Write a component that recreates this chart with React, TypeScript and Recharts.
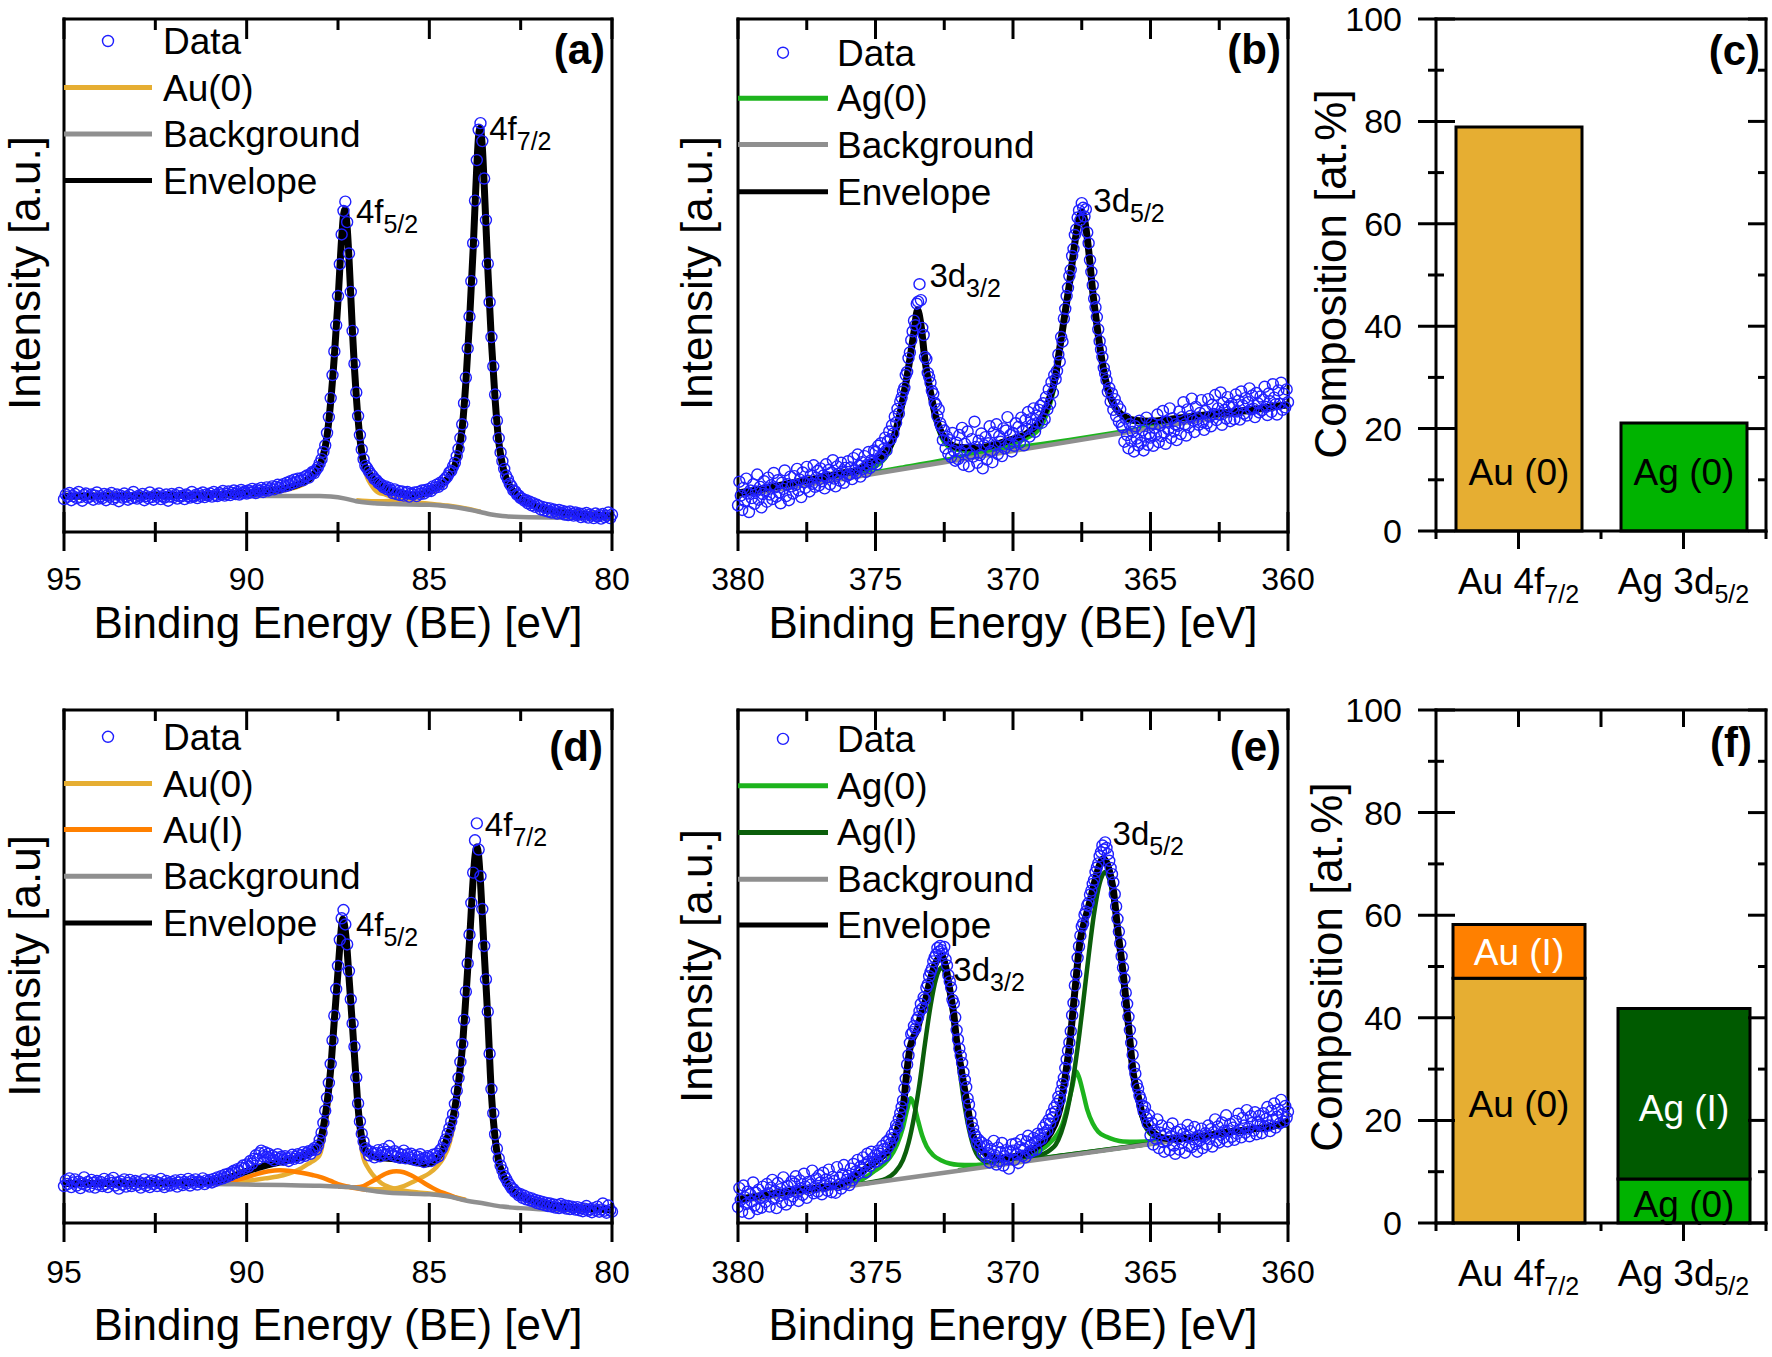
import React from 'react';
import {
  ComposedChart,
  Scatter,
  Line,
  XAxis,
  YAxis,
  ReferenceDot,
  BarChart,
  Bar,
  Cell,
  LabelList,
} from 'recharts';

const FONT = '"Liberation Sans", Arial, Helvetica, sans-serif';
const BLUE = '#1f1fff';
const AU0 = '#e6ae32';
const AUI = '#ff8000';
const AG0 = '#1db41d';
const AGI = '#0b5e0b';
const BG = '#8f8f8f';
const AG0_BAR = '#00b300';
const AGI_BAR = '#005a00';

type Pair = [number, number];

// ---------- (a) Au 4f, sample 1 : measured points 95 -> 80 eV, every 0.05 eV
const auAData = [
  6.4, 7.3, 6.9, 7.6, 6.2, 7.0, 7.4, 6.6, 7.8, 6.8, 6.1, 7.2, 7.5, 6.7, 6.9, 7.3, 6.3, 7.1, 7.7, 6.5,
  7.0, 6.6, 7.4, 6.2, 7.2, 6.9, 7.6, 6.4, 6.8, 7.3, 6.0, 7.1, 6.7, 7.5, 6.9, 6.3, 7.2, 6.6, 7.8, 6.8,
  6.5, 7.1, 6.9, 7.4, 6.2, 7.0, 6.6, 7.7, 6.8, 6.3, 7.2, 6.9, 7.5, 6.4, 7.0, 6.7, 7.3, 6.1, 6.9, 7.4,
  6.8, 7.2, 6.5, 7.6, 6.9, 7.1, 6.4, 7.3, 7.0, 6.7, 7.8, 6.9, 7.2, 6.6, 7.4, 7.0, 7.7, 6.8, 7.3, 7.1,
  7.5, 6.9, 7.8, 7.2, 7.0, 7.6, 7.3, 8.0, 7.1, 7.4, 7.9, 7.2, 7.6, 8.1, 7.4, 7.8, 7.3, 8.2, 7.6, 7.9,
  7.5, 8.1, 7.7, 8.4, 7.9, 7.6, 8.3, 8.0, 8.6, 7.8, 8.2, 8.7, 8.1, 8.5, 8.9, 8.3, 8.8, 9.2, 8.6, 9.0,
  9.3, 8.9, 9.6, 9.1, 9.9, 9.5, 10.2, 9.7, 10.4, 10.0, 10.5, 10.1, 10.8, 11.0, 10.6, 11.3, 11.7, 11.5, 12.1, 12.6,
  13.4, 14.2, 15.6, 16.9, 19.3, 22.4, 26.1, 30.6, 35.2, 40.3, 46.0, 52.2, 58.0, 62.6, 64.4, 60.4, 54.3, 46.8, 39.2, 32.8,
  27.2, 22.6, 18.9, 16.1, 14.2, 12.9, 12.4, 11.8, 11.3, 10.9, 10.3, 10.1, 9.6, 9.4, 9.1, 8.7, 8.9, 8.3, 8.6, 8.1,
  7.6, 8.3, 7.4, 8.0, 7.2, 7.9, 7.1, 7.6, 7.8, 6.9, 7.5, 7.3, 7.7, 7.0, 7.8, 7.4, 8.1, 7.5, 8.2, 7.9,
  8.4, 8.0, 8.9, 8.6, 9.2, 8.8, 9.6, 9.3, 10.1, 10.5, 10.9, 11.6, 11.9, 12.8, 13.5, 14.8, 16.2, 18.3, 21.0, 25.1,
  30.1, 35.8, 42.0, 48.9, 56.3, 64.6, 72.5, 78.4, 79.7, 76.2, 68.9, 60.8, 52.3, 44.8, 38.0, 32.3, 26.8, 21.7, 18.3, 15.5,
  13.8, 12.3, 11.0, 10.3, 9.4, 8.9, 8.1, 7.9, 7.3, 7.1, 6.6, 6.5, 6.1, 6.2, 5.6, 5.9, 5.2, 5.6, 4.9, 5.3,
  5.1, 4.4, 4.9, 4.2, 4.7, 4.0, 4.6, 3.8, 4.4, 4.1, 3.6, 4.3, 3.7, 4.1, 3.4, 3.9, 3.3, 4.0, 3.5, 3.2,
  3.8, 3.3, 3.6, 2.9, 3.5, 3.1, 3.7, 2.8, 3.4, 3.2, 2.7, 3.6, 3.0, 3.3, 2.6, 3.5, 2.9, 3.2, 3.8, 2.7,
  3.4,
];
const auAEnvelope: Pair[] = [
  [95, 6.95], [92, 7.1], [90, 7.6], [89.5, 8.0], [89, 8.4], [88.5, 9.55], [88.2, 10.95], [88, 13.0],
  [87.9, 15.0], [87.8, 18.7], [87.7, 25.4], [87.6, 34.3], [87.5, 45.1], [87.4, 57.3], [87.35, 61.7],
  [87.31, 62.8], [87.25, 59.5], [87.2, 53.5], [87.15, 46], [87.1, 38.5], [87.05, 32], [87, 26.5],
  [86.9, 18.3], [86.8, 13.6], [86.7, 12.0], [86.6, 11.0], [86.4, 9.5], [86.2, 8.6], [86, 7.8],
  [85.7, 7.4], [85.45, 7.2], [85.2, 7.4], [85, 8.0], [84.8, 8.7], [84.6, 9.6], [84.4, 11.5], [84.3, 13.0],
  [84.2, 15.5], [84.1, 20.3], [84, 29.2], [83.9, 41.1], [83.8, 55.2], [83.7, 71.4], [83.65, 77.3],
  [83.61, 78.7], [83.55, 75.1], [83.5, 68.0], [83.4, 51.4], [83.3, 37.1], [83.2, 25.9], [83.1, 17.6],
  [83, 13.1], [82.9, 10.5], [82.8, 9.0], [82.6, 7.1], [82.4, 6.0], [82.2, 5.35], [82, 4.8], [81.5, 4.0],
  [81, 3.55], [80.5, 3.3], [80, 3.1],
];
const auABackground: Pair[] = [
  [95, 6.9], [89, 7.0], [88, 7.0], [87.7, 6.9], [87.3, 6.5], [87, 6.0], [86.5, 5.6], [86, 5.45],
  [85, 5.3], [84.5, 5.0], [84, 4.5], [83.6, 3.9], [83.3, 3.4], [83, 3.1], [82.5, 2.9], [80, 2.7],
];
const auAAu0f52: Pair[] = [
  [90, 7.3], [89.5, 7.6], [89, 8.1], [88.5, 9.1], [88.2, 10.5], [88, 12.6], [87.9, 14.6], [87.8, 18.4],
  [87.7, 25.1], [87.6, 34.0], [87.5, 44.8], [87.4, 57.0], [87.35, 61.4], [87.31, 62.5], [87.25, 59.2],
  [87.2, 53.2], [87.15, 45.7], [87.1, 38.2], [87.05, 31.7], [87, 26.2], [86.9, 17.8], [86.8, 12.9],
  [86.7, 10.6], [86.6, 9.3], [86.5, 8.3], [86.4, 7.7], [86.2, 7.3], [86, 6.7], [85.7, 6.2], [85.4, 5.8],
  [85, 5.5], [84.5, 5.15], [84, 4.6], [83.6, 3.95],
];
const auAAu0f72: Pair[] = [
  [87, 6.2], [86.5, 6.0], [86, 6.1], [85.7, 6.35], [85.4, 6.7], [85.2, 7.0], [85, 7.5], [84.8, 8.2],
  [84.6, 9.2], [84.4, 11.1], [84.3, 12.6], [84.2, 15.1], [84.1, 19.8], [84, 28.7], [83.9, 40.7],
  [83.8, 54.8], [83.7, 71.1], [83.65, 77.0], [83.61, 78.3], [83.55, 74.8], [83.5, 67.8], [83.4, 51.2],
  [83.3, 36.9], [83.2, 25.7], [83.1, 17.4], [83, 12.9], [82.9, 10.3], [82.8, 8.85], [82.6, 6.95],
  [82.4, 5.85], [82.2, 5.25], [82, 4.7], [81.5, 3.9], [81, 3.45], [80.5, 3.2], [80, 3.0],
];

// ---------- (b) Ag 3d, sample 1 : measured points 380 -> 360 eV, every 0.05 eV
const agBData = [
  5.2, 9.8, 7.1, 4.3, 8.6, 6.0, 10.4, 7.5, 3.9, 8.1, 6.6, 9.3, 5.5, 7.9, 11.2, 6.3, 8.8, 4.8, 7.4, 9.9,
  8.2, 5.9, 10.6, 7.3, 9.1, 6.4, 11.5, 8.7, 6.9, 10.1, 7.7, 5.6, 9.6, 8.4, 12.0, 7.0, 9.3, 6.2, 10.8, 8.9,
  7.5, 10.9, 9.2, 12.3, 8.1, 10.2, 6.8, 11.6, 9.7, 8.6, 12.7, 10.0, 7.9, 11.1, 9.4, 13.0, 8.8, 10.6, 11.9, 9.1,
  12.4, 9.9, 11.0, 8.5, 13.2, 10.7, 12.1, 9.3, 11.6, 14.0, 10.4, 8.9, 12.8, 11.3, 10.0, 13.5, 11.8, 9.6, 12.5, 10.9,
  13.8, 11.2, 12.6, 10.3, 14.4, 12.0, 11.5, 15.1, 12.9, 10.8, 13.6, 12.3, 14.8, 11.7, 13.1, 15.6, 12.5, 14.0, 13.3, 15.9,
  15.6, 13.2, 16.8, 14.5, 17.3, 15.0, 16.2, 18.4, 15.9, 17.7, 19.6, 18.1, 20.8, 19.2, 22.5, 21.3, 24.0, 23.1, 25.4, 26.2,
  27.4, 28.1, 30.6, 31.2, 33.9, 35.0, 37.4, 39.1, 41.2, 40.3, 44.5, 44.9, 48.3, 45.2, 39.8, 38.4, 34.1, 33.7, 31.0, 30.2,
  29.1, 27.5, 26.9, 25.2, 24.8, 22.6, 23.9, 21.2, 20.5, 17.9, 19.8, 16.3, 18.6, 15.2, 17.9, 14.6, 19.3, 15.8, 13.9, 17.4,
  14.2, 18.9, 15.6, 20.3, 13.1, 17.2, 16.0, 19.6, 12.8, 15.3, 18.1, 14.7, 21.5, 16.6, 13.5, 17.8, 15.0, 19.2, 12.4, 16.9,
  18.5, 14.1, 17.3, 20.6, 15.8, 13.6, 19.4, 16.9, 21.0, 15.2, 18.7, 17.6, 14.8, 20.2, 16.3, 19.8, 22.4, 17.1, 18.9, 15.7,
  19.3, 16.8, 21.2, 18.0, 20.5, 17.4, 22.3, 19.7, 16.9, 21.8, 20.1, 23.4, 18.6, 22.0, 20.9, 24.1, 19.5, 22.7, 21.3, 23.8,
  24.6, 21.3, 25.1, 22.0, 26.3, 23.9, 27.8, 25.0, 29.2, 27.1, 30.6, 29.8, 31.4, 34.6, 33.2, 38.0, 37.1, 41.6, 43.5, 46.0,
  47.6, 49.9, 51.1, 53.8, 55.2, 57.9, 59.0, 61.3, 62.7, 60.8, 64.1, 63.2, 61.5, 62.9, 58.4, 56.3, 53.0, 50.7, 48.1, 45.5,
  43.8, 41.9, 39.5, 37.2, 35.6, 34.1, 32.0, 30.9, 29.6, 27.3, 28.1, 25.4, 27.0, 23.8, 25.9, 22.6, 24.7, 21.5, 23.9, 20.8,
  20.4, 17.6, 22.1, 18.9, 16.3, 21.0, 17.8, 19.5, 15.7, 20.6, 18.2, 16.9, 21.7, 17.4, 19.8, 15.9, 18.6, 22.3, 17.0, 19.2,
  18.4, 21.2, 16.8, 20.3, 19.0, 22.9, 17.5, 20.8, 18.7, 23.6, 19.4, 17.2, 21.5, 20.0, 24.1, 18.3, 22.2, 19.6, 21.0, 17.9,
  20.7, 23.5, 19.1, 22.4, 25.3, 21.0, 18.8, 23.9, 20.4, 22.6, 26.0, 21.7, 19.5, 24.4, 22.0, 20.9, 23.2, 25.7, 21.4, 19.9,
  23.6, 21.2, 25.9, 22.5, 20.6, 24.8, 23.0, 26.7, 21.8, 24.1, 22.9, 27.2, 20.9, 25.2, 23.8, 22.1, 26.3, 24.5, 21.6, 25.0,
  24.3, 22.0, 26.8, 23.5, 25.6, 21.9, 27.4, 24.7, 23.1, 26.1, 22.7, 25.3, 28.0, 23.9, 26.6, 24.0, 22.4, 27.1, 25.1, 23.3,
  26.4, 23.7, 25.8, 28.3, 24.4, 22.8, 27.0, 25.5, 23.4, 28.8, 26.2, 24.9, 22.9, 27.6, 25.0, 29.1, 23.8, 26.9, 24.3, 27.8,
  25.3,
];
const agBEnvelope: Pair[] = [
  [380, 7.6], [379, 8.5], [378, 9.6], [377, 10.6], [376.3, 11.4], [375.6, 12.2], [375.2, 13.4], [375, 14.0],
  [374.6, 15.7], [374.4, 17.6], [374.2, 21.0], [374, 26.0], [373.8, 32.0], [373.6, 39.0], [373.47, 43.3],
  [373.35, 40.5], [373.2, 33.5], [373, 27.2], [372.8, 22.3], [372.6, 19.3], [372.4, 17.7], [372.2, 16.85],
  [372, 16.5], [371.44, 16.4], [371, 16.6], [370.5, 17.3], [370, 18.1], [369.5, 19.2], [369, 21.9],
  [368.8, 24.0], [368.65, 26.4], [368.45, 30.5], [368.3, 35.8], [368.1, 43.0], [367.95, 48.3], [367.8, 54.5],
  [367.65, 59.8], [367.5, 62.4], [367.4, 60.9], [367.25, 55.0], [367.1, 46.8], [366.95, 40.4], [366.8, 34.6],
  [366.65, 30.0], [366.5, 26.8], [366.3, 24.4], [366.1, 23.1], [365.6, 21.8], [365, 21.6], [364, 22.2],
  [363, 22.8], [362, 23.4], [361, 24.1], [360, 24.8],
];
const agBBackground: Pair[] = [[380, 7.0], [360, 24.6]];
const agBAg0d32: Pair[] = [
  [380, 7.3], [378, 9.0], [376.5, 10.5], [375.5, 11.7], [375, 12.8], [374.6, 14.8], [374.4, 17.0],
  [374.2, 20.5], [374, 25.4], [373.85, 30.0], [373.7, 35.5], [373.6, 38.8], [373.47, 42.6], [373.35, 40.0],
  [373.25, 35.6], [373.1, 29.5], [372.9, 23.8], [372.7, 19.8], [372.5, 17.5], [372.3, 16.5], [372, 16.0],
  [371.5, 15.7], [371, 15.6], [370, 16.4], [369, 17.1], [368, 17.9], [366, 19.6], [364, 21.3], [362, 23.0],
  [360, 24.7],
];
const agBAg0d52: Pair[] = [
  [380, 7.1], [378, 8.9], [376, 10.7], [374, 12.6], [372, 14.55], [371, 15.7], [370, 17.3], [369.5, 18.3],
  [369, 20.4], [368.65, 25.0], [368.45, 29.4], [368.3, 34.9], [368.1, 42.2], [367.95, 47.5], [367.8, 53.8],
  [367.65, 59.1], [367.5, 61.9], [367.4, 60.4], [367.25, 54.6], [367.1, 46.4], [366.95, 40.1], [366.8, 34.3],
  [366.65, 29.7], [366.5, 26.5], [366.3, 24.1], [366.1, 22.8], [365.6, 21.5], [365, 21.3], [364, 21.9],
  [363, 22.5], [362, 23.2], [361, 23.9], [360, 24.7],
];

// ---------- (d) Au 4f, sample 2 : measured points 95 -> 80 eV, every 0.05 eV
const auDData = [
  7.2, 8.3, 7.6, 8.7, 7.0, 7.9, 8.5, 7.3, 8.1, 6.8, 7.7, 8.9, 7.4, 8.0, 7.1, 8.4, 7.8, 6.9, 8.2, 7.5,
  8.0, 7.2, 8.6, 7.6, 7.0, 8.3, 7.8, 8.8, 7.3, 7.9, 6.7, 8.1, 7.5, 8.5, 7.1, 7.8, 8.4, 7.2, 7.7, 8.2,
  7.4, 8.0, 6.9, 7.7, 8.5, 7.3, 7.9, 7.0, 8.3, 7.6, 8.1, 7.2, 7.8, 8.6, 7.5, 7.0, 8.2, 7.7, 7.3, 8.0,
  7.6, 8.3, 7.1, 7.9, 8.4, 7.4, 8.0, 7.7, 8.6, 7.3, 8.2, 7.8, 8.5, 7.5, 8.1, 7.9, 8.7, 7.6, 8.3, 8.0,
  8.4, 7.9, 8.6, 8.2, 8.9, 8.5, 9.1, 8.7, 9.4, 9.0, 9.6, 9.3, 9.9, 10.2, 9.8, 10.5, 10.1, 10.8, 11.2, 10.7,
  11.4, 11.0, 12.1, 11.6, 12.5, 13.2, 12.4, 13.6, 14.1, 13.0, 13.8, 12.9, 13.5, 12.6, 13.1, 12.2, 12.8, 13.4, 12.5, 12.9,
  12.3, 13.0, 12.6, 12.1, 12.8, 13.3, 12.5, 12.9, 13.4, 12.7, 13.2, 13.8, 13.1, 13.6, 14.0, 13.5, 14.2, 14.6, 14.3, 15.1,
  16.2, 17.6, 19.5, 21.9, 24.4, 27.3, 31.0, 35.6, 40.4, 45.6, 50.1, 55.2, 59.4, 61.0, 58.2, 54.3, 49.1, 43.6, 38.9, 34.4,
  28.4, 23.3, 19.8, 17.4, 15.9, 14.6, 14.1, 13.2, 13.9, 13.5, 12.8, 13.6, 14.2, 13.0, 13.7, 14.4, 13.3, 13.9, 15.0, 13.6,
  13.2, 14.0, 12.9, 13.6, 12.7, 13.3, 14.1, 12.6, 13.4, 12.8, 13.5, 12.4, 13.1, 12.2, 12.9, 13.4, 12.5, 11.9, 12.7, 13.0,
  12.8, 12.1, 13.3, 12.6, 13.5, 13.0, 14.2, 14.6, 15.5, 16.3, 17.4, 18.5, 19.8, 21.2, 23.2, 25.8, 28.3, 31.4, 34.9, 39.6,
  45.1, 50.6, 56.2, 62.4, 68.3, 74.6, 77.9, 72.8, 67.6, 61.2, 54.0, 47.5, 41.2, 33.0, 26.1, 21.4, 17.3, 14.5, 12.6, 11.2,
  10.3, 9.2, 8.6, 7.9, 7.4, 6.8, 6.6, 6.0, 5.9, 5.4, 5.6, 4.9, 5.3, 4.6, 5.0, 4.4, 4.8, 4.2, 4.5, 3.9,
  4.3, 3.7, 4.1, 3.5, 3.9, 3.3, 3.8, 3.2, 3.6, 3.0, 3.5, 2.9, 3.7, 3.1, 3.4, 2.8, 3.3, 2.7, 3.2, 3.0,
  2.6, 3.1, 2.5, 2.9, 2.3, 2.8, 3.3, 2.4, 2.7, 2.1, 2.9, 2.5, 3.2, 2.2, 2.6, 3.8, 2.4, 2.0, 3.4, 2.5,
  2.2,
];
const auDEnvelope: Pair[] = [
  [95, 7.7], [93, 7.75], [92, 7.8], [91, 8.1], [90.5, 8.8], [90.2, 9.6], [90, 10.1], [89.7, 10.8],
  [89.4, 11.4], [89.1, 11.9], [88.8, 12.3], [88.5, 12.9], [88.3, 13.5], [88.2, 14.0], [88.1, 14.6],
  [88, 15.6], [87.9, 18.7], [87.8, 23.3], [87.7, 30.0], [87.6, 39.6], [87.5, 49.0], [87.45, 54.0],
  [87.4, 58.0], [87.37, 59.2], [87.3, 57.0], [87.25, 53.2], [87.2, 48.0], [87.1, 38.0], [87, 27.5],
  [86.95, 22.5], [86.9, 19.0], [86.8, 15.0], [86.7, 13.8], [86.5, 12.9], [86.2, 12.65], [85.8, 12.4],
  [85.4, 11.9], [85.1, 11.5], [84.9, 11.9], [84.8, 12.5], [84.7, 13.4], [84.6, 14.8], [84.5, 16.8],
  [84.4, 19.0], [84.3, 22.5], [84.2, 27.5], [84.1, 34.0], [84, 44.0], [83.9, 55.0], [83.8, 67.0],
  [83.75, 71.5], [83.7, 73.3], [83.65, 71.5], [83.6, 66.5], [83.5, 53.0], [83.4, 40.0], [83.3, 25.0],
  [83.2, 16.5], [83.1, 11.9], [83, 9.7], [82.9, 8.1], [82.8, 6.9], [82.6, 5.6], [82.4, 4.9], [82.2, 4.3],
  [82, 3.9], [81.5, 3.3], [81, 3.0], [80.5, 2.8], [80, 2.6],
];
const auDBackground: Pair[] = [
  [95, 7.65], [91, 7.6], [90, 7.5], [89, 7.4], [88, 7.25], [87.5, 7.1], [87.2, 7.0], [86.7, 6.45],
  [86.3, 6.05], [85.5, 5.7], [85, 5.6], [84.5, 5.2], [84, 4.4], [83.5, 3.8], [83, 3.2], [82.5, 2.9],
  [82, 2.7], [80, 2.4],
];
const auDAu0f52: Pair[] = [
  [91, 7.75], [90.5, 7.9], [90, 8.2], [89.5, 8.7], [89, 9.3], [88.7, 10.0], [88.5, 10.7], [88.3, 11.6],
  [88.2, 12.0], [88.1, 12.5], [88, 13.3], [87.95, 14.4], [87.9, 16.2], [87.85, 18.6], [87.8, 21.0],
  [87.75, 24.3], [87.7, 28.0], [87.65, 32.8], [87.6, 38.2], [87.55, 43.3], [87.5, 48.0], [87.45, 53.0],
  [87.4, 57.0], [87.37, 58.2], [87.3, 56.0], [87.25, 52.2], [87.2, 47.0], [87.15, 41.4], [87.1, 36.8],
  [87.05, 32.1], [87, 26.0], [86.95, 20.8], [86.9, 17.0], [86.85, 14.2], [86.8, 12.6], [86.7, 11.0],
  [86.6, 9.9], [86.5, 9.0], [86.4, 8.3], [86.3, 7.7], [86.1, 7.0], [85.9, 6.6], [85.6, 6.2], [85.3, 5.95],
  [85, 5.75], [84.5, 5.3], [84, 4.5],
];
const auDAu0f72: Pair[] = [
  [87, 6.9], [86.5, 6.6], [86, 6.7], [85.7, 7.2], [85.4, 8.2], [85.2, 8.9], [85, 9.7], [84.8, 10.9],
  [84.6, 12.9], [84.5, 14.4], [84.4, 16.8], [84.3, 20.6], [84.2, 25.6], [84.1, 32.0], [84, 42.0],
  [83.95, 47.6], [83.9, 53.6], [83.85, 60.1], [83.8, 65.8], [83.75, 70.3], [83.7, 72.7], [83.65, 70.9],
  [83.6, 65.9], [83.55, 59.5], [83.5, 52.6], [83.45, 46.1], [83.4, 39.6], [83.35, 31.6], [83.3, 24.7],
  [83.25, 20.1], [83.2, 16.2], [83.15, 13.5], [83.1, 11.6], [83, 9.4], [82.9, 7.8], [82.8, 6.6],
  [82.6, 5.3], [82.4, 4.6], [82.2, 4.0], [82, 3.6], [81.5, 3.0], [81, 2.7], [80, 2.45],
];
const auDAuIf52: Pair[] = [
  [91.5, 7.65], [91, 7.75], [90.5, 8.1], [90, 8.9], [89.7, 9.6], [89.4, 10.1], [89.1, 10.3], [88.8, 10.15],
  [88.5, 9.8], [88.2, 9.35], [88, 9.0], [87.7, 8.2], [87.5, 7.6], [87.2, 7.05], [87, 6.75], [86.7, 6.45],
];
const auDAuIf72: Pair[] = [
  [87.5, 7.1], [87.2, 7.02], [87, 6.95], [86.8, 7.2], [86.6, 8.0], [86.4, 8.8], [86.2, 9.6], [86, 10.05],
  [85.9, 10.1], [85.7, 9.9], [85.5, 9.3], [85.3, 8.5], [85.1, 7.6], [84.9, 6.8], [84.7, 6.1], [84.5, 5.6],
  [84.3, 5.0], [84.1, 4.6], [84, 4.45],
];

// ---------- (e) Ag 3d, sample 2 : measured points 380 -> 360 eV, every 0.05 eV
const agEData = [
  3.1, 6.8, 4.5, 2.2, 7.3, 5.0, 3.7, 6.1, 1.9, 5.6, 4.2, 7.9, 3.4, 5.9, 2.7, 6.5, 4.8, 3.0, 7.1, 5.3,
  4.1, 7.6, 5.8, 3.2, 6.9, 8.4, 4.7, 6.2, 2.9, 7.8, 5.3, 6.6, 4.0, 8.9, 5.7, 3.6, 7.2, 6.0, 4.4, 8.1,
  5.2, 7.7, 9.1, 6.0, 4.3, 8.3, 6.8, 5.5, 9.6, 7.1, 4.9, 8.0, 6.4, 7.5, 10.2, 5.8, 7.0, 8.7, 6.1, 9.3,
  7.9, 5.6, 9.8, 7.2, 8.5, 6.3, 10.4, 7.7, 6.0, 9.0, 8.2, 5.9, 10.9, 7.4, 8.8, 6.7, 9.5, 11.3, 7.6, 8.4,
  9.2, 7.4, 10.6, 8.3, 11.5, 9.0, 10.1, 12.3, 9.7, 11.0, 10.4, 12.8, 11.3, 9.9, 13.5, 12.0, 11.1, 13.9, 12.6, 11.8,
  13.2, 12.0, 14.1, 13.5, 12.6, 15.0, 14.4, 13.1, 15.8, 14.7, 16.3, 15.5, 17.2, 16.6, 18.0, 19.1, 18.7, 20.3, 21.4, 22.6,
  23.9, 26.2, 28.1, 30.9, 32.7, 35.1, 36.8, 37.2, 38.4, 37.9, 39.6, 40.1, 41.3, 42.7, 41.8, 44.0, 43.6, 45.9, 46.5, 48.1,
  48.9, 49.6, 51.0, 51.8, 52.3, 53.6, 52.9, 54.0, 53.2, 52.5, 53.8, 51.4, 50.2, 48.3, 47.1, 45.9, 43.5, 42.8, 40.1, 37.6,
  35.8, 34.0, 32.6, 31.2, 29.4, 27.9, 26.5, 24.3, 23.1, 21.2, 19.6, 18.5, 17.3, 16.8, 15.5, 16.2, 14.9, 15.7, 13.6, 14.8,
  12.9, 15.1, 13.6, 11.8, 14.4, 12.5, 16.0, 13.2, 11.4, 14.7, 12.1, 13.8, 15.6, 11.2, 13.0, 14.2, 12.4, 10.6, 13.9, 15.3,
  14.1, 12.3, 15.5, 13.4, 11.7, 14.8, 16.2, 13.1, 14.5, 12.8, 15.9, 17.0, 13.7, 15.2, 14.0, 16.6, 15.8, 14.3, 17.4, 16.1,
  17.2, 16.4, 18.6, 17.5, 19.3, 18.0, 20.1, 19.4, 21.3, 20.6, 22.5, 21.7, 23.2, 24.6, 24.0, 25.8, 27.1, 28.3, 30.2, 31.9,
  33.6, 35.2, 37.4, 40.5, 42.9, 46.3, 48.6, 51.7, 53.9, 56.0, 57.8, 58.4, 60.1, 60.7, 61.9, 62.4, 64.0, 64.8, 66.1, 66.9,
  68.4, 69.3, 70.1, 71.5, 72.3, 73.6, 72.8, 74.2, 73.1, 71.9, 70.6, 69.2, 68.0, 66.4, 64.1, 61.7, 59.3, 56.8, 54.5, 52.0,
  49.8, 47.6, 44.9, 42.7, 40.2, 37.6, 35.1, 32.8, 30.4, 29.1, 27.0, 26.2, 24.8, 24.1, 22.9, 21.8, 22.6, 20.5, 19.4, 21.0,
  17.1, 19.5, 15.3, 18.0, 16.4, 20.2, 14.6, 17.6, 19.0, 15.8, 13.9, 17.3, 16.0, 18.6, 14.2, 16.9, 19.4, 15.1, 13.5, 17.8,
  16.5, 14.3, 18.2, 15.6, 17.4, 13.7, 16.8, 19.1, 15.0, 17.9, 14.8, 16.3, 18.7, 15.4, 13.9, 17.0, 16.1, 18.4, 14.6, 16.9,
  17.5, 15.3, 19.0, 16.4, 18.3, 14.9, 17.7, 20.2, 16.0, 18.8, 15.7, 17.2, 19.6, 16.6, 18.0, 21.0, 15.9, 17.9, 19.3, 16.8,
  18.6, 16.2, 19.9, 17.4, 21.3, 18.1, 16.7, 20.5, 19.0, 17.6, 22.0, 18.4, 16.9, 20.8, 19.5, 18.0, 21.6, 17.3, 19.7, 20.9,
  19.2, 17.5, 21.4, 18.8, 20.3, 22.6, 19.0, 17.9, 21.9, 20.1, 23.3, 18.6, 20.7, 22.1, 19.4, 24.0, 21.2, 19.8, 22.8, 20.5,
  21.7,
];
const agEEnvelope: Pair[] = [
  [380, 4.6], [379, 5.5], [378, 6.3], [377, 6.9], [376.3, 7.5], [375.8, 9.0], [375.4, 10.4], [375.08, 11.6],
  [374.8, 12.8], [374.5, 14.3], [374.35, 15.9], [374.2, 18.3], [374.1, 20.5], [374, 22.4], [373.87, 28.9],
  [373.75, 34.0], [373.64, 36.0], [373.5, 37.5], [373.35, 40.5], [373.2, 43.0], [373.02, 47.2],
  [372.85, 50.2], [372.7, 51.7], [372.59, 52.1], [372.45, 50.0], [372.29, 45.2], [372.15, 40.5],
  [372.05, 35.4], [371.9, 30.5], [371.75, 25.6], [371.6, 20.9], [371.5, 17.8], [371.3, 15.3], [371.08, 13.9],
  [370.8, 13.0], [370.47, 12.6], [370, 12.9], [369.5, 13.6], [369.1, 15.0], [368.77, 16.5], [368.5, 19.0],
  [368.29, 22.4], [368.1, 28.5], [367.93, 35.4], [367.75, 45.2], [367.56, 55.0], [367.4, 58.8],
  [367.26, 61.5], [367.02, 66.7], [366.85, 69.8], [366.72, 71.0], [366.6, 70.3], [366.45, 67.6],
  [366.35, 64.8], [366.2, 57.5], [365.99, 48.5], [365.8, 38.5], [365.62, 28.9], [365.48, 25.5],
  [365.3, 21.2], [365.02, 18.3], [364.8, 17.2], [364.56, 16.6], [364.2, 16.4], [363.63, 16.6], [363, 17.0],
  [362.1, 17.8], [361.3, 18.3], [360.57, 18.9], [360, 19.9],
];
const agEBackground: Pair[] = [[380, 4.2], [360, 19.1]];
const agEAg0d32: Pair[] = [
  [380, 4.3], [378, 5.9], [376, 7.6], [375.5, 8.45], [375.08, 9.95], [374.7, 11.45], [374.35, 13.8],
  [374.2, 15.5], [374, 18.7], [373.85, 22.1], [373.72, 24.3], [373.6, 23.0], [373.45, 19.9], [373.3, 17.0],
  [373.14, 14.9], [372.9, 13.2], [372.6, 12.2], [372.3, 11.6], [372, 11.35], [371.5, 11.3], [371, 11.45],
  [370, 12.0], [368, 13.3], [365, 15.45], [360, 19.1],
];
const agEAg0d52: Pair[] = [
  [372, 10.3], [371, 11.15], [370.5, 11.7], [370, 12.2], [369.5, 13.0], [369, 14.2], [368.7, 15.4],
  [368.4, 17.2], [368.2, 19.3], [368, 23.1], [367.85, 26.4], [367.71, 29.6], [367.6, 28.4], [367.45, 25.4],
  [367.3, 22.1], [367.1, 19.4], [366.9, 17.8], [366.6, 16.8], [366.3, 16.2], [366, 15.9], [365.5, 15.85],
  [365, 15.95], [364, 16.35], [362, 17.7], [360, 19.2],
];
const agEAgId32: Pair[] = [
  [375.5, 7.65], [375, 8.1], [374.6, 8.7], [374.3, 9.85], [374, 12.3], [373.8, 15.6], [373.6, 20.6],
  [373.4, 27.1], [373.2, 35.0], [373, 42.3], [372.8, 47.65], [372.6, 49.8], [372.4, 47.35], [372.2, 40.9],
  [372, 32.35], [371.8, 24.3], [371.6, 18.25], [371.4, 14.4], [371.1, 12.2], [370.8, 11.75], [370.4, 11.75],
  [370, 11.95], [368, 13.3], [365, 15.45], [360, 19.1],
];
const agEAgId52: Pair[] = [
  [370, 11.75], [369.5, 12.35], [369.15, 12.9], [368.65, 14.25], [368.45, 15.25], [368.25, 17.6],
  [368.05, 21.35], [367.85, 26.9], [367.65, 34.2], [367.45, 42.9], [367.25, 52.1], [367.05, 60.4],
  [366.85, 66.2], [366.65, 68.4], [366.45, 66.0], [366.25, 59.0], [366.05, 49.5], [365.85, 39.4],
  [365.65, 29.6], [365.45, 23.6], [365.25, 19.6], [365.05, 17.6], [364.85, 16.8], [364.65, 16.4],
  [364.15, 16.3], [363.5, 16.5], [362, 17.6], [360, 19.08],
];

// ---------- (c) and (f) composition [at.%]
const compNames = ['Au', 'Ag'];
const compMain = ['Au 4f', 'Ag 3d'];
const compSub = ['7/2', '5/2'];
const compC_zero = [78.9, 21.1];
const compF_zero = [47.7, 8.6];
const compF_one = [10.5, 33.2];

const auTicks = [95, 92.5, 90, 87.5, 85, 82.5, 80];
const agTicks = [380, 377.5, 375, 372.5, 370, 367.5, 365, 362.5, 360];
const compTicks = [0, 10, 20, 30, 40, 50, 60, 70, 80, 90, 100];

const scan = (start: number, step: number, vals: number[]) =>
  vals.map((y, i) => ({ x: Math.round((start - i * step) * 100) / 100, y }));
const pts = (rows: Pair[]) => rows.map(([x, y]) => ({ x, y }));

const frame = { stroke: '#000', strokeWidth: 3, strokeLinecap: 'square' as const };

function SpecTick(props: any) {
  const { x, y, payload, step, labelDy, plotH } = props;
  const v = payload.value;
  const major = Math.abs(v / step - Math.round(v / step)) < 1e-6;
  const top = y - plotH;
  return (
    <g>
      <line x1={x} x2={x} y1={y - (major ? 20 : 10)} y2={y + (major ? 19 : 10)} stroke="#000" strokeWidth={3} />
      <line x1={x} x2={x} y1={top} y2={top + (major ? 20 : 11)} stroke="#000" strokeWidth={3} />
      {major && (
        <text x={x} y={y + labelDy} textAnchor="middle" fontSize={32} fontFamily={FONT} fill="#000">
          {v}
        </text>
      )}
    </g>
  );
}

function PeakTag(props: any) {
  const vb = props.viewBox || { x: props.x, y: props.y, width: 0, height: 0 };
  const x = vb.x + (vb.width || 0) / 2;
  const y = vb.y + (vb.height || 0) / 2;
  return (
    <text x={x} y={y} fontSize={33} fontFamily={FONT} fill="#000">
      <tspan>{props.main}</tspan>
      <tspan fontSize={25} dy={10}>{props.sub}</tspan>
    </text>
  );
}

const dataCircle = (s: any) => (
  <circle cx={s.cx} cy={s.cy} r={5.5} fill="none" stroke={BLUE} strokeWidth={1.4} />
);

interface Curve { rows: Pair[]; color: string; width: number }
interface Tag { x: number; y: number; main: string; sub: string }

function Spectrum(p: {
  plot: [number, number, number, number];
  domain: [number, number];
  ticks: number[];
  labelDy: number;
  start: number;
  values: number[];
  curves: Curve[];
  tags: Tag[];
}) {
  const [pl, pt, pr, pb] = p.plot;
  const pw = pr - pl;
  const ph = pb - pt;
  return (
    <div style={{ position: 'absolute', left: pl - 32, top: pt - 12 }}>
      <ComposedChart width={pw + 64} height={ph + 92} margin={{ top: 10, right: 30, bottom: 0, left: 30 }}>
        <XAxis
          xAxisId="b"
          type="number"
          dataKey="x"
          domain={p.domain}
          reversed
          ticks={p.ticks}
          interval={0}
          height={80}
          tickSize={0}
          tickMargin={0}
          tickLine={false}
          axisLine={frame}
          tick={<SpecTick step={5} labelDy={p.labelDy} plotH={ph} />}
        />
        <XAxis xAxisId="t" orientation="top" type="number" domain={p.domain} reversed height={2} tick={false} tickLine={false} axisLine={frame} />
        <YAxis yAxisId="l" type="number" dataKey="y" domain={[0, 100]} width={2} tick={false} tickLine={false} axisLine={frame} />
        <YAxis yAxisId="r" orientation="right" type="number" domain={[0, 100]} width={2} tick={false} tickLine={false} axisLine={frame} />
        <Scatter xAxisId="b" yAxisId="l" data={scan(p.start, 0.05, p.values)} shape={dataCircle} isAnimationActive={false} />
        {p.curves.map((c, i) => (
          <Line
            key={i}
            xAxisId="b"
            yAxisId="l"
            data={pts(c.rows)}
            dataKey="y"
            type="monotone"
            stroke={c.color}
            strokeWidth={c.width}
            dot={false}
            activeDot={false}
            isAnimationActive={false}
          />
        ))}
        {p.tags.map((t, i) => (
          <ReferenceDot
            key={i}
            xAxisId="b"
            yAxisId="l"
            x={t.x}
            y={t.y}
            r={0}
            fill="none"
            stroke="none"
            label={<PeakTag main={t.main} sub={t.sub} />}
          />
        ))}
      </ComposedChart>
    </div>
  );
}

function CompTick(props: any) {
  const { x, y, payload, plotW } = props;
  const v = payload.value;
  const major = v % 20 === 0;
  return (
    <g>
      <line x1={x - (major ? 18 : 8)} x2={x + (major ? 19 : 8)} y1={y} y2={y} stroke="#000" strokeWidth={3} />
      <line x1={x + plotW} x2={x + plotW - (major ? 18 : 8)} y1={y} y2={y} stroke="#000" strokeWidth={3} />
      {major && (
        <text x={x - 34} y={y + 12} textAnchor="end" fontSize={34} fontFamily={FONT} fill="#000">
          {v}
        </text>
      )}
    </g>
  );
}

function CatTick(props: any) {
  const { x, y, payload, half, plotH, topTicks, labelDy } = props;
  const i = compNames.indexOf(payload.value);
  const last = i === compNames.length - 1;
  const topY = y - plotH;
  return (
    <g stroke="#000" strokeWidth={3}>
      <line x1={x} x2={x} y1={y} y2={y + 18} />
      <line x1={x - half} x2={x - half} y1={y} y2={y + 8} />
      {last && <line x1={x + half} x2={x + half} y1={y} y2={y + 8} />}
      {topTicks && <line x1={x} x2={x} y1={topY} y2={topY + 17} />}
      {topTicks && i === 0 && <line x1={x + half} x2={x + half} y1={topY} y2={topY + 17} />}
      <text x={x} y={y + labelDy} textAnchor="middle" fontSize={37} fontFamily={FONT} fill="#000" stroke="none">
        <tspan>{compMain[i]}</tspan>
        <tspan fontSize={25} dy={9}>{compSub[i]}</tspan>
      </text>
    </g>
  );
}

const barLabel = (texts: string[], colors: string[], at: number[], from: number[], to: number[]) =>
  (props: any) => {
    const vb = props.viewBox && typeof props.viewBox.height === 'number' ? props.viewBox : props;
    const i = props.index ?? 0;
    const top = Math.min(vb.y, vb.y + vb.height);
    const h = Math.abs(vb.height);
    const cy = top + h - ((at[i] - from[i]) / (to[i] - from[i])) * h;
    return (
      <text key={i} x={vb.x + vb.width / 2} y={cy} dy="0.36em" textAnchor="middle" fontSize={37} fontFamily={FONT} fill={colors[i]}>
        {texts[i]}
      </text>
    );
  };

function Composition(p: {
  plot: [number, number, number, number];
  zero: number[];
  one?: number[];
  zeroColors: string[];
  oneColors?: string[];
  barSize: number;
  topTicks: boolean;
  labelDy: number;
  zeroLabels: { text: string[]; color: string[]; at: number[] };
  oneLabels?: { text: string[]; color: string[]; at: number[] };
}) {
  const [pl, pt, pr, pb] = p.plot;
  const pw = pr - pl;
  const ph = pb - pt;
  const rows = compNames.map((name, i) => ({ name, zero: p.zero[i], one: p.one ? p.one[i] : 0 }));
  const zeroFrom = p.zero.map(() => 0);
  const oneTo = p.one ? p.one.map((v, i) => v + p.zero[i]) : [];
  return (
    <div style={{ position: 'absolute', left: pl - 100, top: pt - 30 }}>
      <BarChart width={pw + 104} height={ph + 110} data={rows} margin={{ top: 28, right: 2, bottom: 0, left: 98 }}>
        <XAxis
          xAxisId="b"
          dataKey="name"
          type="category"
          height={80}
          interval={0}
          tickSize={0}
          tickMargin={0}
          tickLine={false}
          axisLine={frame}
          tick={<CatTick half={pw / 4} plotH={ph} topTicks={p.topTicks} labelDy={p.labelDy} />}
        />
        <XAxis xAxisId="t" dataKey="name" orientation="top" height={2} tick={false} tickLine={false} axisLine={frame} />
        <YAxis
          yAxisId="l"
          type="number"
          domain={[0, 100]}
          ticks={compTicks}
          interval={0}
          width={2}
          tickSize={0}
          tickMargin={0}
          tickLine={false}
          axisLine={frame}
          tick={<CompTick plotW={pw} />}
        />
        <YAxis yAxisId="r" orientation="right" type="number" domain={[0, 100]} width={2} tick={false} tickLine={false} axisLine={frame} />
        <Bar xAxisId="b" yAxisId="l" dataKey="zero" stackId="s" barSize={p.barSize} stroke="#000" strokeWidth={3} isAnimationActive={false}>
          {p.zeroColors.map((c, i) => (
            <Cell key={i} fill={c} />
          ))}
          <LabelList dataKey="zero" content={barLabel(p.zeroLabels.text, p.zeroLabels.color, p.zeroLabels.at, zeroFrom, p.zero)} />
        </Bar>
        {p.one && p.oneColors && p.oneLabels && (
          <Bar xAxisId="b" yAxisId="l" dataKey="one" stackId="s" barSize={p.barSize} stroke="#000" strokeWidth={3} isAnimationActive={false}>
            {p.oneColors.map((c, i) => (
              <Cell key={i} fill={c} />
            ))}
            <LabelList dataKey="one" content={barLabel(p.oneLabels.text, p.oneLabels.color, p.oneLabels.at, p.zero, oneTo)} />
          </Bar>
        )}
      </BarChart>
    </div>
  );
}

type LegendItem = { label: string; color: string; dot?: boolean };

function LegendBlock({ x0, x1, tx, ys, items }: { x0: number; x1: number; tx: number; ys: number[]; items: LegendItem[] }) {
  return (
    <g>
      {items.map((it, i) => (
        <g key={i}>
          {it.dot ? (
            <circle cx={(x0 + x1) / 2} cy={ys[i]} r={5.5} fill="none" stroke={BLUE} strokeWidth={1.4} />
          ) : (
            <line x1={x0} x2={x1} y1={ys[i]} y2={ys[i]} stroke={it.color} strokeWidth={5} />
          )}
          <text x={tx} y={ys[i] + 13} fontSize={37} fontFamily={FONT} fill="#000">
            {it.label}
          </text>
        </g>
      ))}
    </g>
  );
}

function YTitle({ x, y, text }: { x: number; y: number; text: string }) {
  return (
    <text transform={`translate(${x},${y}) rotate(-90)`} textAnchor="middle" fontSize={44} fontFamily={FONT} fill="#000">
      {text}
    </text>
  );
}

export default function App() {
  const bgW = 4.5;
  const compW = 4.5;
  return (
    <div style={{ position: 'absolute', left: 0, top: 0, width: 1772, height: 1357, overflow: 'hidden', background: '#fff' }}>
      <Spectrum
        plot={[64, 19, 612, 532]}
        domain={[80, 95]}
        ticks={auTicks}
        labelDy={58}
        start={95}
        values={auAData}
        curves={[
          { rows: auAAu0f52, color: AU0, width: compW },
          { rows: auAAu0f72, color: AU0, width: compW },
          { rows: auABackground, color: BG, width: bgW },
          { rows: auAEnvelope, color: '#000', width: 7 },
        ]}
        tags={[
          { x: 87.01, y: 60.2, main: '4f', sub: '5/2' },
          { x: 83.36, y: 76.5, main: '4f', sub: '7/2' },
        ]}
      />
      <Spectrum
        plot={[738, 19, 1288, 532]}
        domain={[360, 380]}
        ticks={agTicks}
        labelDy={58}
        start={380}
        values={agBData}
        curves={[
          { rows: agBAg0d32, color: AG0, width: compW },
          { rows: agBAg0d52, color: AG0, width: compW },
          { rows: agBBackground, color: BG, width: bgW },
          { rows: agBEnvelope, color: '#000', width: 7 },
        ]}
        tags={[
          { x: 373.04, y: 47.8, main: '3d', sub: '3/2' },
          { x: 367.08, y: 62.4, main: '3d', sub: '5/2' },
        ]}
      />
      <Composition
        plot={[1436, 19, 1766, 531]}
        zero={compC_zero}
        zeroColors={[AU0, AG0_BAR]}
        barSize={126}
        topTicks={false}
        labelDy={63}
        zeroLabels={{ text: ['Au (0)', 'Ag (0)'], color: ['#000', '#000'], at: [11.6, 11.6] }}
      />
      <Spectrum
        plot={[64, 710, 612, 1223]}
        domain={[80, 95]}
        ticks={auTicks}
        labelDy={60}
        start={95}
        values={auDData}
        curves={[
          { rows: auDAu0f52, color: AU0, width: compW },
          { rows: auDAu0f72, color: AU0, width: compW },
          { rows: auDAuIf52, color: AUI, width: compW },
          { rows: auDAuIf72, color: AUI, width: compW },
          { rows: auDBackground, color: BG, width: bgW },
          { rows: auDEnvelope, color: '#000', width: 7 },
        ]}
        tags={[
          { x: 87.01, y: 56.0, main: '4f', sub: '5/2' },
          { x: 83.48, y: 75.5, main: '4f', sub: '7/2' },
        ]}
      />
      <Spectrum
        plot={[738, 710, 1288, 1223]}
        domain={[360, 380]}
        ticks={agTicks}
        labelDy={60}
        start={380}
        values={agEData}
        curves={[
          { rows: agEAg0d32, color: AG0, width: compW },
          { rows: agEAg0d52, color: AG0, width: compW },
          { rows: agEAgId32, color: AGI, width: compW },
          { rows: agEAgId52, color: AGI, width: compW },
          { rows: agEBackground, color: BG, width: bgW },
          { rows: agEEnvelope, color: '#000', width: 7 },
        ]}
        tags={[
          { x: 372.17, y: 47.2, main: '3d', sub: '3/2' },
          { x: 366.38, y: 73.6, main: '3d', sub: '5/2' },
        ]}
      />
      <Composition
        plot={[1436, 710, 1766, 1223]}
        zero={compF_zero}
        one={compF_one}
        zeroColors={[AU0, AG0_BAR]}
        oneColors={[AUI, AGI_BAR]}
        barSize={132}
        topTicks
        labelDy={63}
        zeroLabels={{ text: ['Au (0)', 'Ag (0)'], color: ['#000', '#000'], at: [23.3, 3.7] }}
        oneLabels={{ text: ['Au (I)', 'Ag (I)'], color: ['#fff', '#fff'], at: [52.8, 22.5] }}
      />

      <svg width={1772} height={1357} style={{ position: 'absolute', left: 0, top: 0, pointerEvents: 'none' }}>
        <text x={338} y={638} textAnchor="middle" fontSize={44} fontFamily={FONT}>Binding Energy (BE) [eV]</text>
        <text x={1013} y={638} textAnchor="middle" fontSize={44} fontFamily={FONT}>Binding Energy (BE) [eV]</text>
        <text x={338} y={1340} textAnchor="middle" fontSize={44} fontFamily={FONT}>Binding Energy (BE) [eV]</text>
        <text x={1013} y={1340} textAnchor="middle" fontSize={44} fontFamily={FONT}>Binding Energy (BE) [eV]</text>
        <YTitle x={40} y={273} text="Intensity [a.u.]" />
        <YTitle x={712} y={273} text="Intensity [a.u.]" />
        <YTitle x={1346} y={274} text="Composition [at.%]" />
        <YTitle x={40} y={966} text="Intensity [a.u]" />
        <YTitle x={712} y={966} text="Intensity [a.u.]" />
        <YTitle x={1342} y={967} text="Composition [at.%]" />

        <text x={605} y={64} textAnchor="end" fontSize={42} fontWeight="bold" fontFamily={FONT}>(a)</text>
        <text x={1281} y={64} textAnchor="end" fontSize={42} fontWeight="bold" fontFamily={FONT}>(b)</text>
        <text x={1760} y={65} textAnchor="end" fontSize={42} fontWeight="bold" fontFamily={FONT}>(c)</text>
        <text x={603} y={761} textAnchor="end" fontSize={42} fontWeight="bold" fontFamily={FONT}>(d)</text>
        <text x={1281} y={761} textAnchor="end" fontSize={42} fontWeight="bold" fontFamily={FONT}>(e)</text>
        <text x={1752} y={757} textAnchor="end" fontSize={42} fontWeight="bold" fontFamily={FONT}>(f)</text>

        <LegendBlock
          x0={64}
          x1={152}
          tx={163}
          ys={[41, 87.5, 134, 180.5]}
          items={[
            { label: 'Data', color: BLUE, dot: true },
            { label: 'Au(0)', color: AU0 },
            { label: 'Background', color: BG },
            { label: 'Envelope', color: '#000' },
          ]}
        />
        <LegendBlock
          x0={738}
          x1={828}
          tx={837}
          ys={[52.7, 98.2, 144.6, 191.8]}
          items={[
            { label: 'Data', color: BLUE, dot: true },
            { label: 'Ag(0)', color: AG0 },
            { label: 'Background', color: BG },
            { label: 'Envelope', color: '#000' },
          ]}
        />
        <LegendBlock
          x0={64}
          x1={152}
          tx={163}
          ys={[736.8, 783.5, 829.5, 876.2, 923]}
          items={[
            { label: 'Data', color: BLUE, dot: true },
            { label: 'Au(0)', color: AU0 },
            { label: 'Au(I)', color: AUI },
            { label: 'Background', color: BG },
            { label: 'Envelope', color: '#000' },
          ]}
        />
        <LegendBlock
          x0={738}
          x1={828}
          tx={837}
          ys={[738.9, 785.7, 832.4, 879.2, 925.1]}
          items={[
            { label: 'Data', color: BLUE, dot: true },
            { label: 'Ag(0)', color: AG0 },
            { label: 'Ag(I)', color: AGI },
            { label: 'Background', color: BG },
            { label: 'Envelope', color: '#000' },
          ]}
        />
      </svg>
    </div>
  );
}
